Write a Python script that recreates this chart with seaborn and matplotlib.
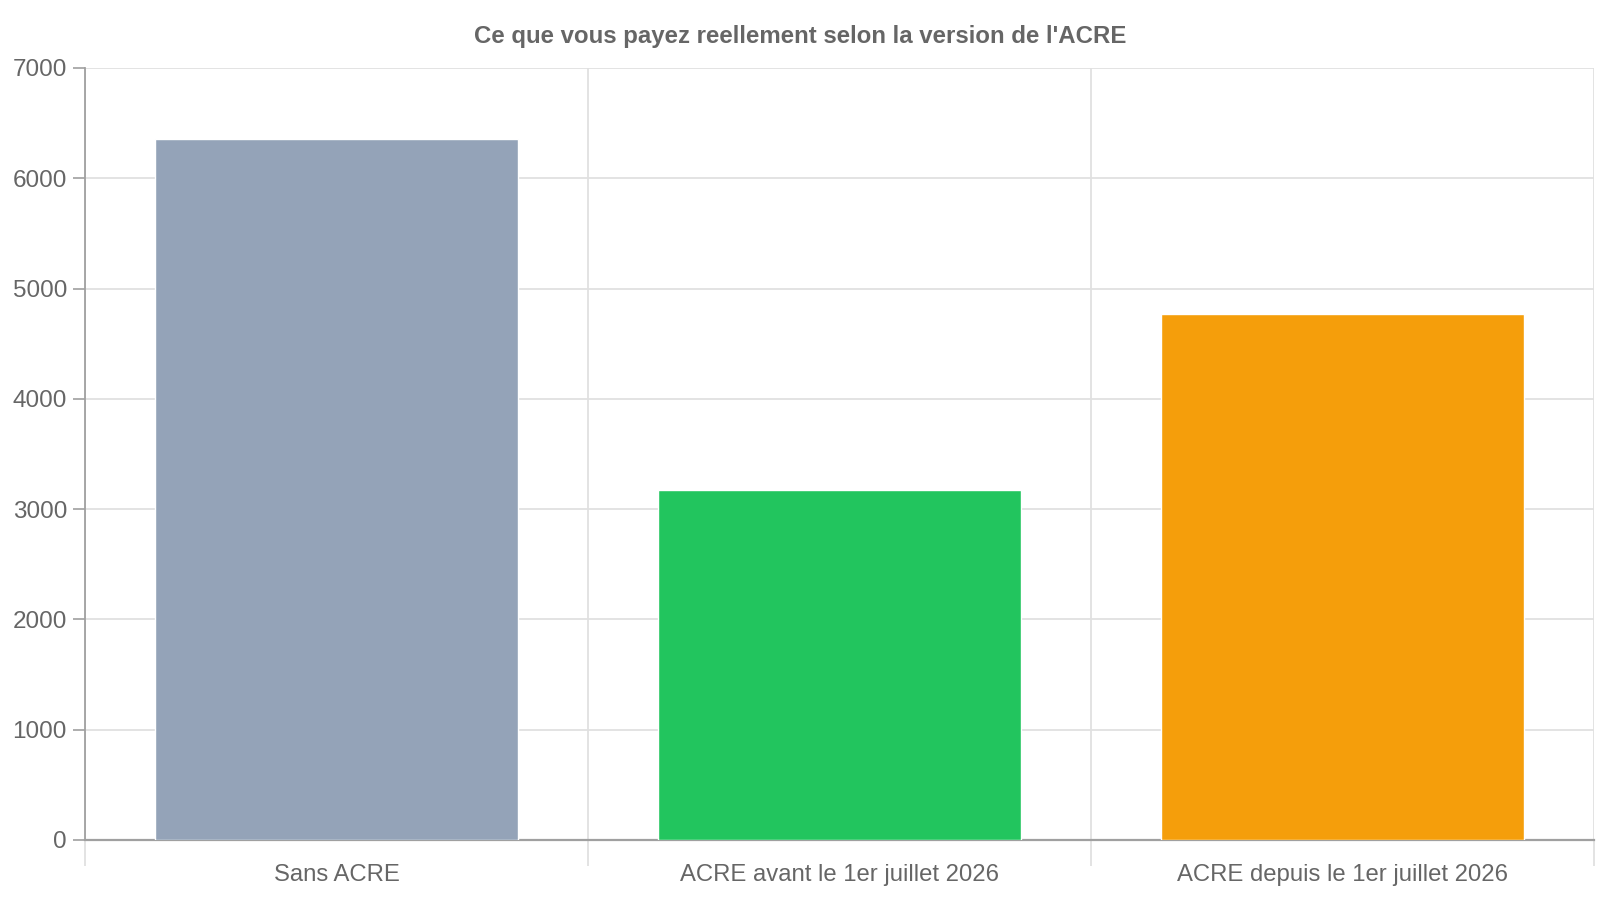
import matplotlib
matplotlib.use("Agg")
import matplotlib.pyplot as plt
import numpy as np
import pandas as pd
import seaborn as sns

categories = ["Sans ACRE", "ACRE avant le 1er juillet 2026", "ACRE depuis le 1er juillet 2026"]
amounts = [6360, 3175, 4770]
bar_colors = ["#94A3B8", "#22C55E", "#F59E0B"]
title = "Ce que vous payez reellement selon la version de l'ACRE"

df = pd.DataFrame({"version": categories, "montant": amounts})

sns.set_style("white")
plt.rcParams["font.family"] = ["Liberation Sans", "DejaVu Sans"]

text_col = "#666666"
grid_col = "#e0e0e0"
axis_col = "#a0a0a0"

fig = plt.figure(figsize=(16, 9), dpi=100)
ax = fig.add_axes([85 / 1600, 1 - 840 / 900, (1594 - 85) / 1600, (840 - 68) / 900])

sns.barplot(data=df, x="version", y="montant", hue="version", palette=bar_colors,
            width=0.72, legend=False, ax=ax, saturation=1, zorder=3)

ax.set_xlim(-0.5, len(categories) - 0.5)
ax.set_ylim(0, 7000)
ax.set_yticks(np.arange(0, 7001, 1000))
ax.set_xlabel("")
ax.set_ylabel("")

# ticks + vertical grid on category boundaries, labels on centres
bounds = np.arange(-0.5, len(categories), 1.0)
ax.set_xticks(bounds, labels=[""] * len(bounds))
ax.set_xticks(np.arange(len(categories)), labels=categories, minor=True)
ax.tick_params(bottom=True, left=True, which="both")
ax.tick_params(axis="x", which="major", length=19, color=grid_col, width=1.3)
ax.tick_params(axis="x", which="minor", length=0, pad=17, labelsize=17.2, labelcolor=text_col)
ax.tick_params(axis="y", length=9, color=axis_col, width=1.2, pad=4, labelsize=17.5,
               labelcolor=text_col)
# the first boundary tick continues the y axis line
ax.xaxis.get_major_ticks()[0].tick1line.set_color(axis_col)
ax.grid(axis="y", color=grid_col, linewidth=1.3, zorder=0)
ax.grid(axis="x", which="major", color=grid_col, linewidth=1.3, zorder=0)
ax.set_axisbelow(True)

for side in ["top", "right"]:
    ax.spines[side].set_visible(False)
ax.spines["left"].set_color(axis_col)
ax.spines["bottom"].set_color(axis_col)
ax.spines["left"].set_linewidth(1.3)
ax.spines["bottom"].set_linewidth(1.6)

fig.text(800 / 1600, 1 - 37 / 900, title, ha="center", va="center",
         fontsize=17.3, fontweight="bold", color=text_col)

fig.savefig("out.png", dpi=100, facecolor="white")
